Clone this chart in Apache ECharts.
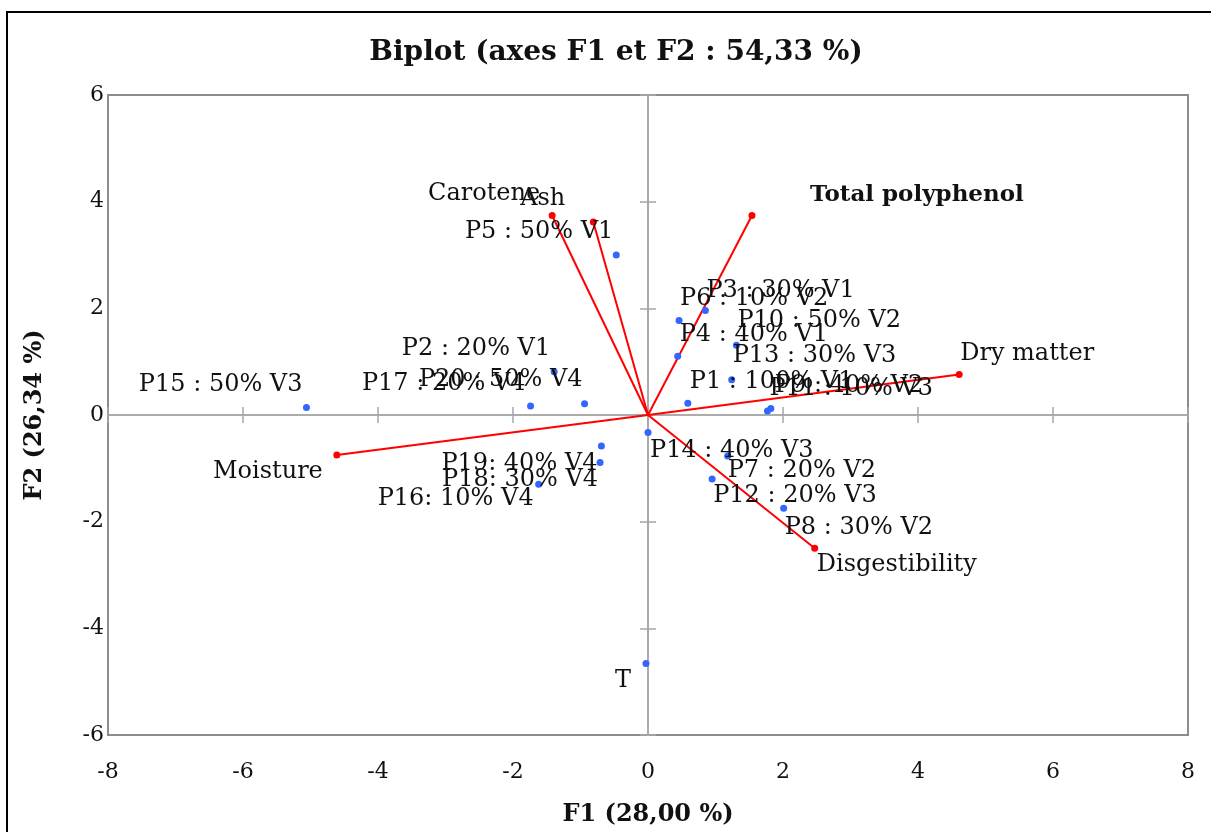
<!DOCTYPE html>
<html>
<head>
<meta charset="utf-8">
<script src="https://cdn.jsdelivr.net/npm/echarts@6/dist/echarts.min.js"></script>
<style>
  html, body { margin: 0; padding: 0; background: #fff; }
  #chart { width: 1211px; height: 832px; }
</style>
</head>
<body>
<div id="chart"></div>
<script>
// ---- Data ----
const obsNames = ['P1 : 100% V1','P2 : 20% V1','P3 : 30% V1','P4 : 40% V1','P5 : 50% V1',
  'P6 : 10% V2','P7 : 20% V2','P8 : 30% V2','P9 : 40% V2','P10 : 50% V2',
  'P11 : 10% V3','P12 : 20% V3','P13 : 30% V3','P14 : 40% V3','P15 : 50% V3',
  'P16: 10% V4','P17 : 20% V4','P18: 30% V4','P19: 40% V4','P20 : 50% V4','T'];
const obsF1 = [0.59, -1.39, 0.85, 0.44, -0.47, 0.46, 1.18, 2.01, 1.82, 1.31,
  1.77, 0.95, 1.24, 0.00, -5.06, -1.62, -1.74, -0.71, -0.69, -0.94, -0.03];
const obsF2 = [0.22, 0.81, 1.96, 1.10, 3.00, 1.77, -0.77, -1.75, 0.12, 1.31,
  0.075, -1.20, 0.66, -0.33, 0.14, -1.30, 0.17, -0.89, -0.58, 0.21, -4.66];

const varNames = ['Carotene', 'Ash', 'Total polyphenol', 'Dry matter', 'Moisture', 'Disgestibility'];
const varF1 = [-1.42, -0.81, 1.54, 4.61, -4.61, 2.47];
const varF2 = [3.74, 3.62, 3.74, 0.76, -0.75, -2.50];

const xTicks = { min: -8, max: 8, interval: 2 };
const yTicks = { min: -6, max: 6, interval: 2 };

const titleText = 'Biplot (axes F1 et F2 : 54,33 %)';
const xName = 'F1 (28,00 %)';
const yName = 'F2 (26,34 %)';

// ---- Label placement (dx, dy, align) ----
const obsLabelPlace = [
  [2,-22,'left'], [-4,-23,'right'], [1,-20,'left'], [2,-22,'left'], [-3,-23,'right'],
  [1,-22,'left'], [0,15,'left'], [1,19,'left'], [4,-23,'left'], [1,-24,'left'],
  [2,-22,'left'], [1,17,'left'], [1,-24,'left'], [2,18,'left'], [-4,-23,'right'],
  [-5,14,'right'], [-5,-22,'right'], [-2,17,'right'], [-4,18,'right'], [-2,-24,'right'], [-15,17,'right']
];
const varLabelPlace = [
  [-12,-22,'right'], [-28,-23,'right'], [58,-21,'left'], [1,-21,'left'], [-14,17,'right'], [2,16,'left']
];
const varLabelBold = [false, false, true, false, false, false];

const FONT = 'DejaVu Serif';
const TXT = '#111111';

function lbl(place, bold) {
  return {
    show: true, formatter: '{b}', position: 'inside', align: place[2], verticalAlign: 'middle',
    offset: [place[0], place[1]], fontFamily: FONT, fontSize: bold ? 23 : 24,
    fontWeight: bold ? 'bold' : 'normal', color: TXT, textBorderWidth: 0
  };
}

const obsData = obsNames.map((n, i) => ({ name: n, value: [obsF1[i], obsF2[i]], label: lbl(obsLabelPlace[i], false) }));
const varEnds = varNames.map((n, i) => ({ name: n, value: [varF1[i], varF2[i]], label: lbl(varLabelPlace[i], varLabelBold[i]) }));
const varLines = varNames.map((n, i) => ({ coords: [[0, 0], [varF1[i], varF2[i]]] }));

const axisGray = { color: '#a6a6a6', width: 1.5 };

function labelAxis(t, isX) {
  return {
    type: 'value', min: t.min, max: t.max, interval: t.interval,
    position: isX ? 'bottom' : 'left',
    axisLine: { show: false, onZero: false },
    axisTick: { show: false },
    splitLine: { show: false },
    axisLabel: { fontFamily: FONT, fontSize: 22, color: TXT, margin: isX ? 26 : 4 },
    name: isX ? xName : yName,
    nameLocation: 'middle',
    nameGap: isX ? 68 : 61,
    nameRotate: isX ? 0 : 90,
    nameTextStyle: { fontFamily: FONT, fontSize: 24, fontWeight: 'bold', color: TXT }
  };
}
function zeroAxis(t, isX, inside) {
  return {
    type: 'value', min: t.min, max: t.max, interval: t.interval,
    position: isX ? 'bottom' : 'left',
    axisLine: { show: true, onZero: true, onZeroAxisIndex: 0, lineStyle: axisGray },
    axisTick: { show: true, inside: inside, length: 8, lineStyle: axisGray },
    axisLabel: { show: false },
    splitLine: { show: false }
  };
}

const chart = echarts.init(document.getElementById('chart'), null, { renderer: 'canvas' });
chart.setOption({
  backgroundColor: '#fff',
  animation: false,
  grid: { left: 108, right: 23, top: 95, bottom: 97, show: true, borderColor: '#8c8c8c', borderWidth: 2, backgroundColor: '#fff' },
  xAxis: [labelAxis(xTicks, true), zeroAxis(xTicks, true, true), zeroAxis(xTicks, true, false)],
  yAxis: [labelAxis(yTicks, false), zeroAxis(yTicks, false, true), zeroAxis(yTicks, false, false)],
  graphic: [
    { type: 'rect', shape: { x: 7, y: 12, width: 1220, height: 840 }, style: { fill: null, stroke: '#000', lineWidth: 2 }, z: 100 },
    { type: 'text', x: 616, y: 53, style: { text: titleText, fontFamily: FONT, fontSize: 28, fontWeight: 'bold', fill: TXT, align: 'center', verticalAlign: 'middle' }, z: 100 }
  ],
  series: [
    {
      type: 'lines', coordinateSystem: 'cartesian2d', xAxisIndex: 0, yAxisIndex: 0,
      data: varLines, silent: true,
      lineStyle: { color: '#ff0000', width: 2, opacity: 1, curveness: 0 },
      z: 3
    },
    {
      type: 'scatter', xAxisIndex: 0, yAxisIndex: 0, data: varEnds,
      symbol: 'circle', symbolSize: 7, itemStyle: { color: '#ff0000', opacity: 1 }, z: 4
    },
    {
      type: 'scatter', xAxisIndex: 0, yAxisIndex: 0, data: obsData,
      symbol: 'circle', symbolSize: 7, itemStyle: { color: '#3366ff', opacity: 1 }, z: 5
    }
  ]
});
</script>
</body>
</html>
